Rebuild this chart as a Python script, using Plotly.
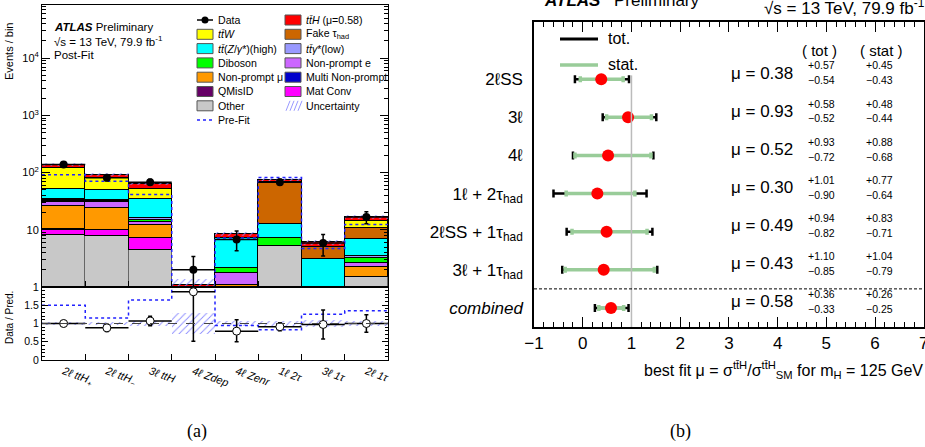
import plotly.graph_objects as go

# ---------------- data: panel (a) ----------------
regions = ["<i>2ℓ ttH<sub>+</sub></i>", "<i>2ℓ ttH<sub>−</sub></i>", "<i>3ℓ ttH</i>", "<i>4ℓ Zdep</i>",
           "<i>4ℓ Zenr</i>", "<i>1ℓ 2τ</i>", "<i>3ℓ 1τ</i>", "<i>2ℓ 1τ</i>"]
other        = [8.1, 7.7, 4.5, 0.30, 0.50, 5.2, 0.30, 1.51]
mat_conv     = [2.0, 2.1, 2.7, 0, 0, 0, 0, 0]
multi_np     = [0.2, 0.2, 0.1, 0, 0, 0, 0, 0]
nonprompt_mu = [15.3, 14.3, 4.7, 0, 0.60, 0, 0, 0.69]
nonprompt_e  = [4.9, 5.8, 1.5, 0, 0.63, 0, 0, 0.45]
qmisid       = [1.3, 0.8, 0.1, 0, 0, 0, 0, 0]
diboson      = [1.8, 1.2, 1.4, 0.15, 0.38, 2.1, 0.20, 0.60]
ttgamma_low  = [1.3, 0.5, 1.0, 0, 0, 0, 0, 0.21]
ttz_high     = [17.1, 16.1, 18.9, 0.45, 4.99, 5.5, 2.6, 3.54]
fake_tau     = [0, 0, 0, 0, 0, 55.0, 1.86, 3.9]
ttw          = [69.0, 32.3, 17.1, 0, 0, 0, 0, 3.2]
tth          = [17.0, 11.0, 11.6, 0.17, 1.5, 6.8, 1.1, 2.6]
data         = [138, 81, 68, 2.0, 6.8, 68, 5.9, 16.7]
data_err_up  = [11.7, 9.0, 8.2, 1.4, 2.7, 8.2, 2.4, 4.0]
data_err_dn  = [11.7, 9.0, 8.2, 1.45, 2.5, 8.2, 2.4, 4.0]
prefit       = [92, 70.6, 41.4, 0.7, 7.2, 82, 4.7, 12.4]
rel_unc      = [0.05, 0.05, 0.06, 0.30, 0.08, 0.06, 0.10, 0.07]

# ---------------- data: panel (b) ----------------
channels = ["2ℓSS", "3ℓ", "4ℓ", "1ℓ + 2τ<sub>had</sub>", "2ℓSS + 1τ<sub>had</sub>",
            "3ℓ + 1τ<sub>had</sub>", "<i>combined</i>"]
mu      = [0.38, 0.93, 0.52, 0.30, 0.49, 0.43, 0.58]
tot_up  = [0.57, 0.58, 0.93, 1.01, 0.94, 1.10, 0.36]
tot_dn  = [0.54, 0.52, 0.72, 0.90, 0.82, 0.85, 0.33]
stat_up = [0.45, 0.48, 0.88, 0.77, 0.83, 1.04, 0.26]
stat_dn = [0.43, 0.44, 0.68, 0.64, 0.71, 0.79, 0.25]
mu_sm = 1.0
xticks_b = [-1, 0, 1, 2, 3, 4, 5, 6, 7]

# ---------------- layout helpers ----------------
W, H = 925, 447
def X(p): return p / W
def Y(p): return 1 - p / H
FONT = "Liberation Sans, Arial, sans-serif"

series = [
    ("Other", other, "#c8c8c8", "#666666"),
    ("Mat Conv", mat_conv, "#ff00ff", "black"),
    ("Multi Non-prompt", multi_np, "#0000cc", "black"),
    ("Non-prompt μ", nonprompt_mu, "#ff9900", "black"),
    ("Non-prompt e", nonprompt_e, "#cc66ff", "black"),
    ("QMisID", qmisid, "#660066", "black"),
    ("Diboson", diboson, "#00ff00", "black"),
    ("<i>tt̄γ</i>*(low)", ttgamma_low, "#9999ff", "black"),
    ("<i>tt̄</i>(<i>Z</i>/<i>γ</i>*)(high)", ttz_high, "#00ffff", "black"),
    ("Fake τ<sub>had</sub>", fake_tau, "#cc6600", "black"),
    ("<i>tt̄W</i>", ttw, "#ffff00", "black"),
    ("<i>tt̄H</i> (μ=0.58)", tth, "#ff0000", "black"),
]
colors = {name: (c, lc) for name, _, c, lc in series}

bins = list(range(len(regions)))
total = [sum(s[1][i] for s in series) for i in bins]

fig = go.Figure()

for name, vals, col, lcol in series:
    fig.add_trace(go.Bar(x=bins, y=vals, width=1, marker=dict(color=col, line=dict(color=lcol, width=1)),
                         xaxis="x", yaxis="y", showlegend=False, name=name))

HATCH = dict(shape="/", fgcolor="#8c8cff", size=5, solidity=0.18)
# uncertainty band (main)
fig.add_trace(go.Bar(x=bins, base=[t * (1 - u) for t, u in zip(total, rel_unc)],
                     y=[2 * t * u for t, u in zip(total, rel_unc)], width=1,
                     marker=dict(color="rgba(0,0,0,0)", line=dict(width=0), pattern=HATCH),
                     xaxis="x", yaxis="y", showlegend=False))

# pre-fit step line (main + ratio)
sx, sy, rsy = [], [], []
for i in bins:
    sx += [i - 0.5, i + 0.5]
    sy += [prefit[i], prefit[i]]
    rsy += [data[i] / prefit[i]] * 2
fig.add_trace(go.Scatter(x=sx, y=sy, mode="lines", line=dict(color="#2222ff", dash="dot", width=1.5),
                         xaxis="x", yaxis="y", showlegend=False))

# data (main)
fig.add_trace(go.Scatter(x=bins, y=data, mode="markers", marker=dict(color="black", size=8),
                         error_y=dict(type="data", symmetric=False, array=data_err_up, arrayminus=data_err_dn,
                                      color="black", thickness=1.5, width=2),
                         error_x=dict(type="constant", value=0.5, color="black", thickness=1.5, width=0),
                         xaxis="x", yaxis="y", showlegend=False))

# ratio panel
fig.add_trace(go.Bar(x=bins, base=[1 - u for u in rel_unc], y=[2 * u for u in rel_unc], width=1,
                     marker=dict(color="rgba(0,0,0,0)", line=dict(width=0), pattern=HATCH),
                     xaxis="x2", yaxis="y2", showlegend=False))
fig.add_trace(go.Scatter(x=sx, y=rsy, mode="lines", line=dict(color="#2222ff", dash="dot", width=1.5),
                         xaxis="x2", yaxis="y2", showlegend=False))
fig.add_trace(go.Scatter(x=bins, y=[d / t for d, t in zip(data, total)], mode="markers",
                         marker=dict(color="white", size=8, line=dict(color="black", width=1)),
                         error_y=dict(type="data", symmetric=False,
                                      array=[e / t for e, t in zip(data_err_up, total)],
                                      arrayminus=[e / t for e, t in zip(data_err_dn, total)],
                                      color="black", thickness=1.5, width=2),
                         error_x=dict(type="constant", value=0.5, color="black", thickness=1.5, width=0),
                         xaxis="x2", yaxis="y2", showlegend=False))

# ---------------- panel (b) ----------------
ypos = list(range(len(channels), 0, -1))
fig.add_trace(go.Scatter(x=mu, y=ypos, mode="markers", marker=dict(size=1, color="rgba(0,0,0,0)"),
                         error_x=dict(type="data", symmetric=False, array=tot_up, arrayminus=tot_dn,
                                      color="black", thickness=2.5, width=4),
                         xaxis="x3", yaxis="y3", showlegend=False))
fig.add_trace(go.Scatter(x=mu, y=ypos, mode="markers", marker=dict(size=1, color="rgba(0,0,0,0)"),
                         error_x=dict(type="data", symmetric=False, array=stat_up, arrayminus=stat_dn,
                                      color="#99cc99", thickness=3.5, width=3),
                         xaxis="x3", yaxis="y3", showlegend=False))
fig.add_trace(go.Scatter(x=mu, y=ypos, mode="markers", marker=dict(size=12, color="#ff0000"),
                         xaxis="x3", yaxis="y3", showlegend=False))

ann = []
def txt(x, y, t, size, xanchor="left", yanchor="middle", xref="paper", yref="paper", **kw):
    ann.append(dict(x=x, y=y, text=t, xref=xref, yref=yref, xanchor=xanchor, yanchor=yanchor,
                    showarrow=False, font=dict(family=kw.pop("family", FONT), size=size,
                                               color=kw.pop("color", "black")), **kw))

for yy, m, tu, td, su, sd in zip(ypos, mu, tot_up, tot_dn, stat_up, stat_dn):
    txt(3.0, yy + 0.16, f"μ = {m:.2f}", 17, xref="x3", yref="y3")
    txt(4.58, yy + 0.36, f"+{tu:.2f}", 10.5, xref="x3", yref="y3")
    txt(4.58, yy - 0.03, f"−{td:.2f}", 10.5, xref="x3", yref="y3")
    txt(5.78, yy + 0.36, f"+{su:.2f}", 10.5, xref="x3", yref="y3")
    txt(5.78, yy - 0.03, f"−{sd:.2f}", 10.5, xref="x3", yref="y3")
txt(X(819), Y(51), "( tot )", 15, xanchor="center")
txt(X(881), Y(51), "( stat )", 15, xanchor="center")
txt(X(606), Y(39), "tot.", 16)
txt(X(606), Y(65), "stat.", 16)
txt(X(542), Y(0), "<b><i>ATLAS</i></b>", 17)
txt(X(612), Y(0), "Preliminary", 17)
txt(X(762), Y(7), "√s = 13 TeV, 79.9 fb<sup>-1</sup>", 17)
txt(X(925), Y(370), "best fit μ = σ<sup>tt̄H</sup>/σ<sup>tt̄H</sup><sub>SM</sub> for m<sub>H</sub> = 125 GeV",
    16, xanchor="right")
txt(X(680), Y(431), "(b)", 18, xanchor="center", family="Liberation Serif, Times New Roman, serif")
txt(X(197), Y(431), "(a)", 18, xanchor="center", family="Liberation Serif, Times New Roman, serif")

# panel (a) texts
txt(X(52), Y(27), "<b><i>ATLAS</i></b> Preliminary", 11.5)
txt(X(52), Y(41), "√s = 13 TeV, 79.9 fb<sup>-1</sup>", 11.5)
txt(X(52), Y(55), "Post-Fit", 11.5)
txt(X(9), Y(52), "Events / bin", 11, xanchor="center", textangle=-90)
txt(X(9), Y(318), "Data / Pred.", 10, xanchor="center", textangle=-90)

shapes = []
# manual legend for panel (a)
rows = [20 + 14.3 * k for k in range(8)]
col1 = ["Data", "<i>tt̄W</i>", "<i>tt̄</i>(<i>Z</i>/<i>γ</i>*)(high)", "Diboson", "Non-prompt μ", "QMisID", "Other", "Pre-Fit"]
col2 = ["<i>tt̄H</i> (μ=0.58)", "Fake τ<sub>had</sub>", "<i>tt̄γ</i>*(low)", "Non-prompt e", "Multi Non-prompt",
        "Mat Conv", "Uncertainty"]
for cx, tx, names in [(197, 216, col1), (285, 304, col2)]:
    for r, nm in zip(rows, names):
        txt(X(tx), Y(r), nm, 10.6)
        if nm in colors:
            c, lc = colors[nm]
            shapes.append(dict(type="rect", xref="paper", yref="paper", x0=X(cx), x1=X(cx + 16),
                               y0=Y(r + 5), y1=Y(r - 5), fillcolor=c, line=dict(color="#555555", width=1)))
        elif nm == "Data":
            shapes.append(dict(type="line", xref="paper", yref="paper", x0=X(cx), x1=X(cx + 16),
                               y0=Y(r), y1=Y(r), line=dict(color="black", width=1.5)))
            shapes.append(dict(type="circle", xref="paper", yref="paper", x0=X(cx + 4.5), x1=X(cx + 11.5),
                               y0=Y(r + 3.5), y1=Y(r - 3.5), fillcolor="black", line=dict(color="black", width=0)))
        elif nm == "Pre-Fit":
            shapes.append(dict(type="line", xref="paper", yref="paper", x0=X(cx), x1=X(cx + 16),
                               y0=Y(r), y1=Y(r), line=dict(color="#2222ff", width=1.5, dash="dot")))
        elif nm == "Uncertainty":
            for k in range(4):
                shapes.append(dict(type="line", xref="paper", yref="paper", x0=X(cx + 1 + 4 * k),
                                   x1=X(cx + 5 + 4 * k), y0=Y(r + 5), y1=Y(r - 5),
                                   line=dict(color="#9999ff", width=1)))

# ratio reference line
shapes.append(dict(type="line", xref="x2 domain", yref="y2", x0=0, x1=1, y0=1, y1=1,
                   line=dict(color="#444444", width=1, dash="dash")))
# panel (b) lines
shapes.append(dict(type="line", xref="x3", yref="y3", x0=mu_sm, x1=mu_sm, y0=0.5, y1=ypos[0] + 0.1,
                   line=dict(color="#bbbbbb", width=1.5)))
shapes.append(dict(type="line", xref="x3 domain", yref="y3", x0=0, x1=1, y0=1.5, y1=1.5,
                   line=dict(color="black", width=1, dash="3px,2px")))
# panel (b) legend lines
shapes.append(dict(type="line", xref="paper", yref="paper", x0=X(560), x1=X(598), y0=Y(39), y1=Y(39),
                   line=dict(color="black", width=3)))
shapes.append(dict(type="line", xref="paper", yref="paper", x0=X(560), x1=X(598), y0=Y(65), y1=Y(65),
                   line=dict(color="#99cc99", width=3.5)))

axfont = dict(family=FONT, size=11, color="black")
minor_log = [m * 10 ** e for e in range(0, 5) for m in range(2, 10)]
fig.update_layout(
    template="none",
    width=W, height=H, autosize=False, margin=dict(l=0, r=0, t=0, b=0, pad=0),
    paper_bgcolor="white", plot_bgcolor="white", barmode="stack", bargap=0,
    font=dict(family=FONT, color="black"),
    xaxis=dict(domain=[X(42), X(388)], range=[-0.5, 7.5], showticklabels=False, ticks="", automargin=False,
               tickvals=bins, showline=True, linecolor="black", mirror=True, showgrid=False, zeroline=False,
               minor=dict(tickvals=[b + 0.5 for b in bins[:-1]], ticks="inside", ticklen=6, tickcolor="black",
                          showgrid=False)),
    yaxis=dict(domain=[Y(287), Y(5)], type="log", range=[0, 4.93], showline=True, linecolor="black",
               mirror="allticks", ticks="inside", ticklen=8, tickcolor="black", showgrid=False, automargin=False,
               tickvals=[1, 10, 100, 1000, 10000], ticktext=["1", "10", "10<sup>2</sup>", "10<sup>3</sup>", "10<sup>4</sup>"],
               tickfont=axfont, zeroline=False,
               minor=dict(tickvals=minor_log, ticks="inside", ticklen=4, tickcolor="black", showgrid=False)),
    xaxis2=dict(domain=[X(42), X(388)], anchor="y2", range=[-0.5, 7.5], tickvals=bins, ticktext=regions,
                tickangle=20, ticks="", showline=True, linecolor="black", mirror=True, showgrid=False,
                zeroline=False, tickfont=dict(family=FONT, size=11, color="black"), automargin=False,
                minor=dict(tickvals=[b + 0.5 for b in bins[:-1]], ticks="inside", ticklen=6, tickcolor="black",
                           showgrid=False)),
    yaxis2=dict(domain=[Y(360), Y(287)], anchor="x2", range=[0, 2], tickvals=[0, 0.5, 1, 1.5],
                ticks="inside", ticklen=6, tickcolor="black", showline=True, linecolor="black", mirror="allticks",
                showgrid=False, zeroline=False, tickfont=dict(family=FONT, size=10.5, color="black"),
                automargin=False,
                minor=dict(dtick=0.1, ticks="inside", ticklen=3, tickcolor="black", showgrid=False)),
    xaxis3=dict(domain=[X(534), X(924)], anchor="y3", range=[-1, 7.004], tickvals=xticks_b,
                ticks="inside", ticklen=10, tickcolor="black", tickwidth=1.2, showline=True, linecolor="black",
                linewidth=1.5, mirror="allticks", showgrid=False, zeroline=False, automargin=False,
                ticklabeloverflow="allow",
                tickfont=dict(family=FONT, size=17, color="black"),
                minor=dict(dtick=0.2, ticks="inside", ticklen=5, tickcolor="black", showgrid=False)),
    yaxis3=dict(domain=[Y(327), Y(22)], anchor="x3", range=[0.5, 8.5], tickvals=ypos, ticktext=channels,
                ticks="", showline=True, linecolor="black", linewidth=1.5, mirror=True, showgrid=False,
                zeroline=False, ticklabelstandoff=6, automargin=False, ticklabeloverflow="allow",
                tickfont=dict(family=FONT, size=17, color="black")),
    annotations=ann, shapes=shapes,
)

fig.write_html("out.html", config={"displayModeBar": False},
               post_script="document.body.style.margin='0px';document.body.style.overflow='hidden';")
